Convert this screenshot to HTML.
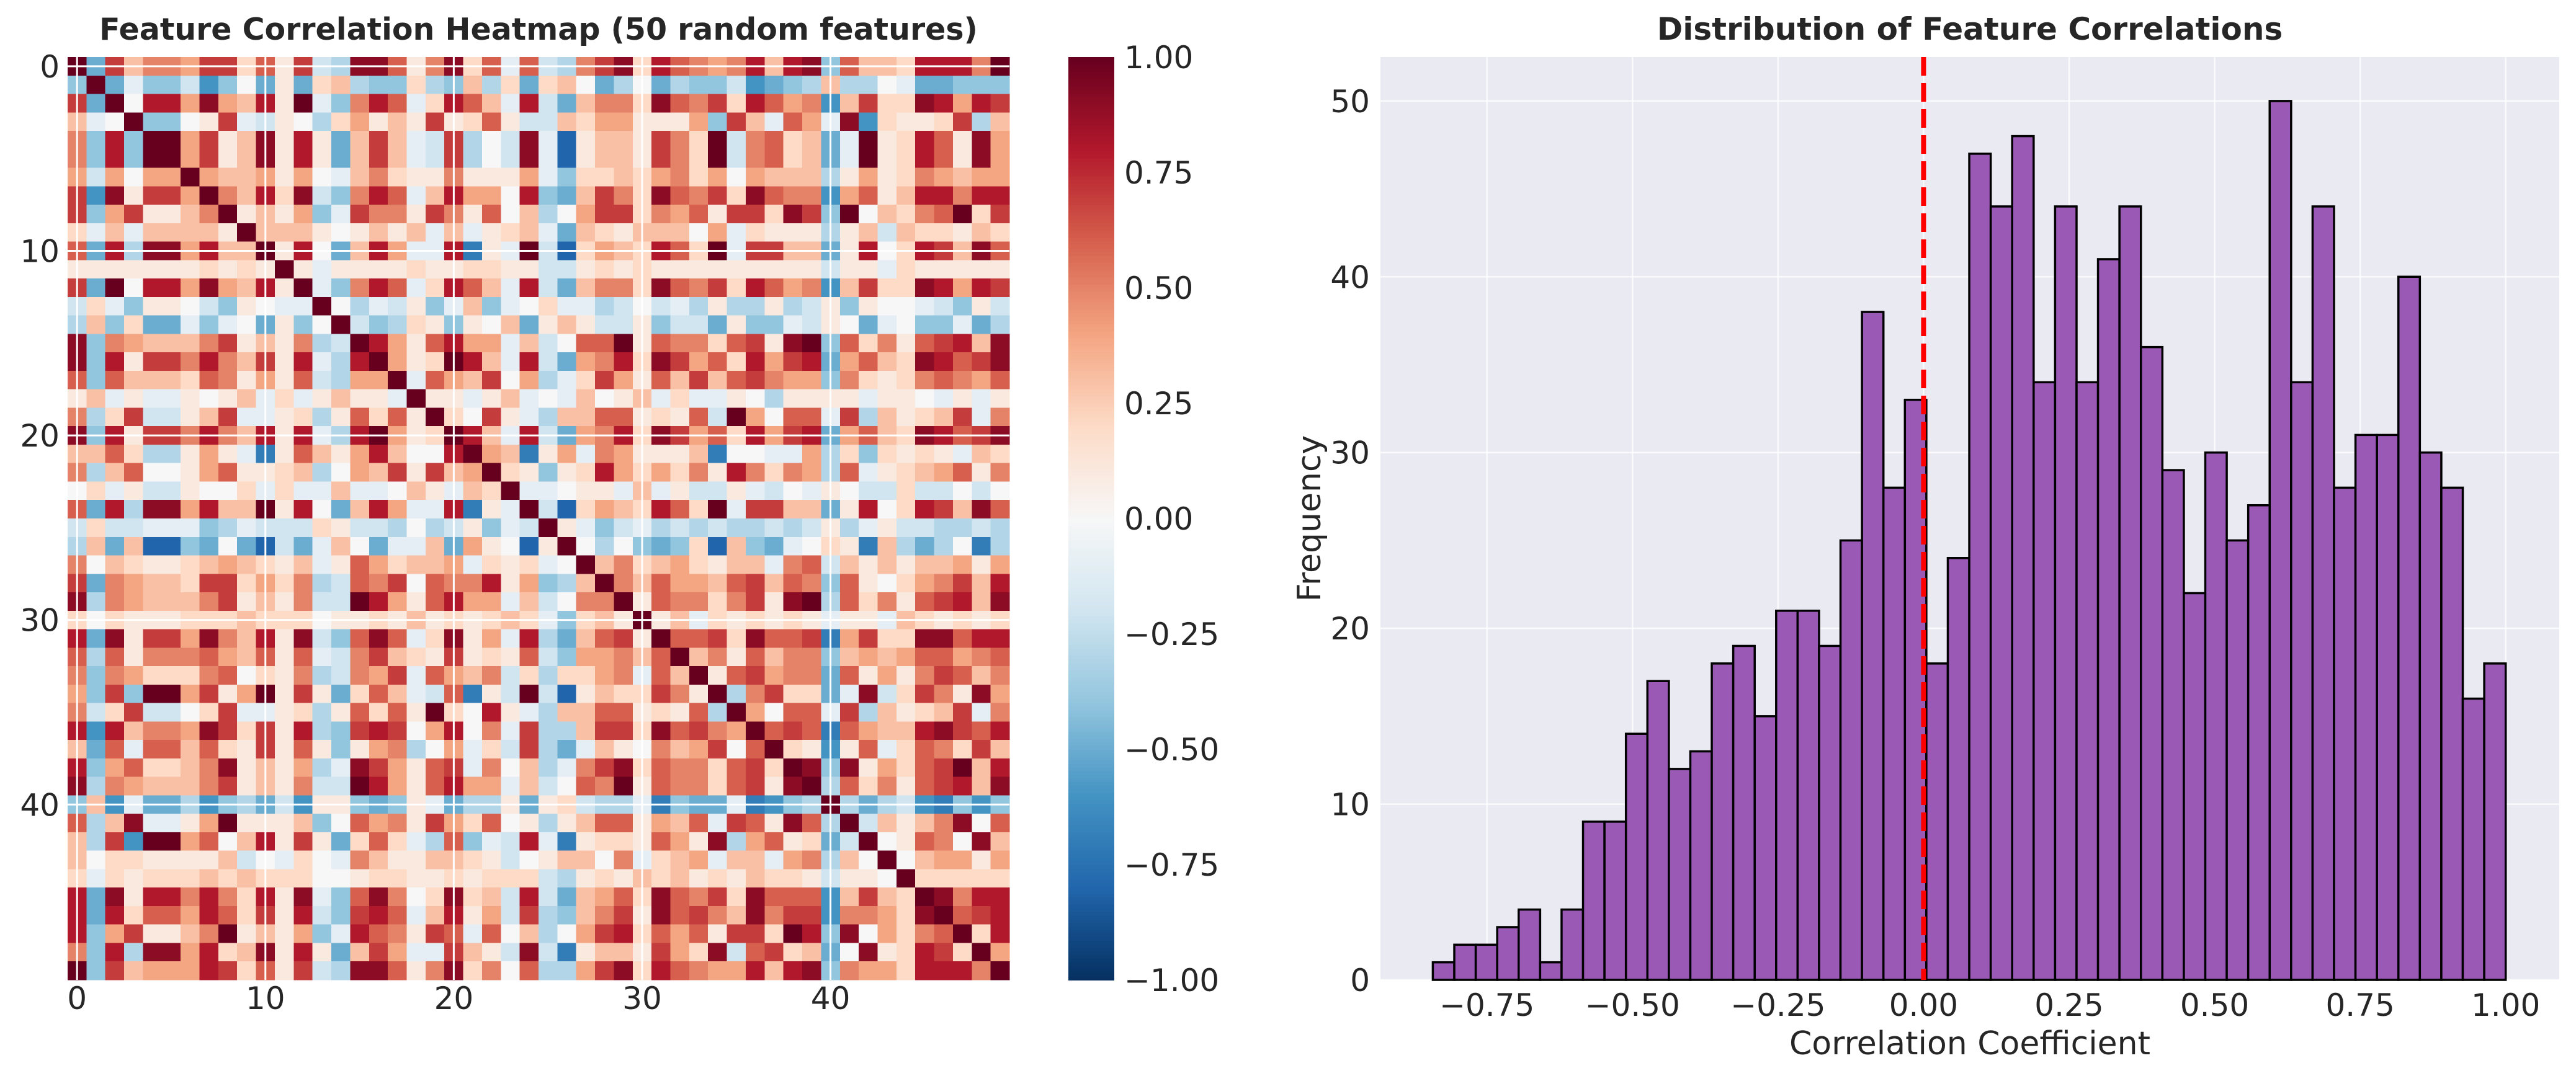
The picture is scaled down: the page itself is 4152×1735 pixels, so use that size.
<!DOCTYPE html>
<html><head><meta charset="utf-8"><style>
html,body{margin:0;padding:0;background:#fff;width:4152px;height:1735px;overflow:hidden}
svg{display:block}
text{font-family:"DejaVu Sans","Liberation Sans",sans-serif;fill:#262626}
</style></head><body>
<svg id="fig" width="4152" height="1735" viewBox="0 0 4152 1735" xmlns="http://www.w3.org/2000/svg">
<g id="heat"></g>
<g id="cbar"></g>
<g id="hist"></g>
</svg>
<script>
// ---------- heatmap data (A=-1.0 ... K=0 ... U=1.0, step 0.1) ----------
const heatTopRows = [
"UFRNPPORRMQLRIHTTQLPTMQJQIHPRTMSQPOPSNSTGQNNMSSSPU",
"GUFJGGIEGKFLFMNHGGMHGNHMFMNKFHKFHGGIEFGHNHHKJFFGGG",
"RFUKSSOTONSLUJGPSQJMSQNJSIFNPPMTQPRMSQOPENRMMTSOSR",
"NJKUGGKLRJILKHMOLNLRLMQLIINMOOLLLOGRNJQOJTEMLLMRHN",
"PGSGUUORLNTLSLFNRNJIRHKITJCLNNLRPMUIPQMNFJULMSQLTO",
"PGSGUUORLNTLSLFNRNJIRHKITJCLNNLRPMUIPQMNFJULMSQLTO",
"OIOKOOUONNOLOKJNPMLLPLLLOJGMMNMOPMOKONNNHLOLMPONOO",
"RETLRROUPNSMTIGPSQJNSOOKSGFNRPMTQPRMTQPPEOQLNSSPSS",
"RGORLLNPULNLOGJRPPLRPLQKNHKORRMPOQLRRMTRGUKNMPQUMR",
"MJNJNNNNLUNNNLKLNLNJNJLMNJFNMLNNNKOJMLLLHLNINMMLNM",
"QFSHTTOSNNULSKFNSOJJSDLJUICMONMSQMUJRRNNFLSKMSRNTQ",
"LLLLLLLMLMLULJLLLLMLLMMLLIILMLMLLLLLLLLLILLJMLLLLL",
"RFUKSSOTONSLUJGPSQJMSQNJSIFNPPMTQPRMSQOPENRMMTSOSR",
"IMJGLLKIGLKJJUKHJILGJNGJKMJJHIKIJHLHHLHILGLKKJIGLI",
"HNGMFFJGJKFLGKUIGHMLGLKNFLNLIILGIIFLGGJILKFJKGGJFH",
"TGPONNNPRLNLPHIUSOLQSOOJNIKQQULQPPMQRLTUGQMPLQRSNT",
"TGSLRRPSPNRLSJHSUOLMUSNJSIFOPSMTROQMSORSFOQNMTSQRT",
"QGQNNNMQPLOLQIHOOUJQONRKOHJMROLQNRNQRPOOGPMLMPQPOQ",
"LNJLJJLKLNJMJLNLLJULLJLNJKJNKLNJMJJLKHLLLLJLLKJLJL",
"PHMRIILNRJJLMHLQMQLUMKRLJHNNQQLMLQIUOKQQJRHNLMNRJP",
"TGSLRRPSPNSLSJHSUOLMUSNJSIFOPSMTROQMSORSFOQNMTSQRT",
"NNQMHHLOLJDLQNLOSNKKSUONDLOJPOLLLNDKKJJOHMGMLMLJNM",
"PHNQKKLOQLLMNHKONRLRNOUMLGLMSOMOMPLSPMPOHQJLMNOQLP",
"KMJLIILKKMJMJJNJJKNLJNMUJJKLLJNJLIILJIKJLKIIMIIKIK",
"QFSHTTOSNNULSKFNSOJJSDLJUICMONMSQMUJRRNNFLSKMSRNTQ"
];
const heatBottomRows = [
"ULJGIJHIHIHHIHILHJLIIHHIH",
"LUKHKGFGMCNGFJKMLDNHFHKDH",
"JKUNPMNOMLNNJPQINLNLNNOLO",
"GHNUPNQOONQRNQPGQLKMOPRNS",
"IKPPULQPPMPRLTUHQMPLQRSNT",
"JGMNLULNJMLMLMLJLLJNMLMLM",
"HFNQRLUQQRMTQQRDORMMTTQSS",
"IGOOPNQUNPLQNPPGNONOQQOPQ",
"HMMOPJQNULQROPPFQLOLPRQNP",
"ICLNMMRPLUHPRMMFJTIMRPLTO",
"HNNQQLMLQHUOKQQJRHNLMNRJP",
"HHNRRMTQRPOUQRQDQONNSTRQS",
"HFJNLKPNORKQUMLELQJMQPMRN",
"HJPRTMQPPMQRMUTGTLOMQRUNS",
"IKQPULQPPMQRLTUHQMPLQRSNT",
"LMIHHJDGFFJDEGHUHFHIEDGEG",
"HLNQQLONQJRQLTQHUINLNPTKQ",
"JDLMMLQOLTHOQLMFIUKLQPKTN",
"LNNKPJMNOJNNJOPHNKUKNOOLO",
"IHLMLNMNLMLNMMLILLKUMMMMM",
"IFNOQMTQPRMTQQQENRNMUTPSS",
"HGNPRLTQRPNTPRREPPOMTUQRS",
"HKORSMQOQLRRMUSGTKOMPQUMS",
"IDLNNLROMTIQRMNFKTLMSRMUO",
"HHORTMSQPOOSNSTGPOOMSSSPU"
];
const heatTicks = [0, 10, 20, 30, 40];
const cbarTicks = [-1.0, -0.75, -0.5, -0.25, 0, 0.25, 0.5, 0.75, 1.0];
const cbarTickLabels = ["\u22121.00","\u22120.75","\u22120.50","\u22120.25","0.00","0.25","0.50","0.75","1.00"];

// ---------- histogram data ----------
const histCounts = [1,2,2,3,4,1,4,9,9,14,17,12,13,18,19,15,21,21,19,25,38,28,33,18,24,47,44,48,34,44,34,41,44,36,29,22,30,25,27,50,34,44,28,31,31,40,30,28,16,18];
const histMin = -0.843;
const histMax = 1.0;
const histXTicks = [-0.75,-0.5,-0.25,0,0.25,0.5,0.75,1.0];
const histXTickLabels = ["\u22120.75","\u22120.50","\u22120.25","0.00","0.25","0.50","0.75","1.00"];
const histYTicks = [0,10,20,30,40,50];
const refLineX = 0;

const NS = "http://www.w3.org/2000/svg";
function mk(tag, attrs, parent, txt){
  const e = document.createElementNS(NS, tag);
  for (const k in attrs) e.setAttribute(k, attrs[k]);
  if (txt !== undefined) e.textContent = txt;
  parent.appendChild(e);
  return e;
}
const N = 50;
function code(ch){ return ch ? (ch.charCodeAt(0) - 75) / 10 : 0; }
function val(i, j){
  if (i === j) return 1;
  if (i < 25) return code(heatTopRows[i][j]);
  if (j < 25) return code(heatTopRows[j][i]);
  return code(heatBottomRows[i-25][j-25]);
}
const stops = ["#053061","#2166ac","#4393c3","#92c5de","#d1e5f0","#f7f7f7","#fddbc7","#f4a582","#d6604d","#b2182b","#67001f"];
function hex(h){ return [parseInt(h.substr(1,2),16),parseInt(h.substr(3,2),16),parseInt(h.substr(5,2),16)]; }
function cmap(v){
  let t = Math.max(0, Math.min(1, (v + 1) / 2)) * 10;
  let k = Math.min(9, Math.floor(t)); let f = t - k;
  const a = hex(stops[k]), b = hex(stops[k+1]);
  return "rgb(" + a.map((x,q)=>Math.round(x + (b[q]-x)*f)).join(",") + ")";
}

// ---------- heatmap ----------
const H = {x0:109, x1:1627, y0:92, y1:1580};
const cw = (H.x1-H.x0)/N, ch = (H.y1-H.y0)/N;
const hx = c => H.x0 + c*cw, hy = r => H.y0 + r*ch;
const heat = document.getElementById("heat");
const ht = mk("text",{x:(H.x0+H.x1)/2,y:64,"text-anchor":"middle","font-size":49,"font-weight":"bold"},heat,"Feature Correlation Heatmap (50 random features)");


const cells = mk("g",{"shape-rendering":"crispEdges"},heat);


for (let i=0;i<N;i++) for (let j=0;j<N;j++){
  const r = mk("rect",{x:hx(j),y:hy(i),width:cw+0.6,height:ch+0.6,fill:cmap(val(i,j))},cells);
  
  
}
heatTicks.forEach(t=>{
  const cx = hx(t+0.5), cy = hy(t+0.5);
  const g1 = mk("line",{x1:cx,x2:cx,y1:H.y0,y2:H.y1,stroke:"#fff","stroke-width":3},heat);
  
  
  const g2 = mk("line",{x1:H.x0,x2:H.x1,y1:cy,y2:cy,stroke:"#fff","stroke-width":3},heat);
  
  
  const lx = mk("text",{x:cx,y:1627,"text-anchor":"middle","font-size":50},heat,String(t));
  
  
  const ly = mk("text",{x:96,y:cy+18,"text-anchor":"end","font-size":50},heat,String(t));
  
  
});

// ---------- colorbar ----------
const C = {x0:1722, x1:1796, y0:92, y1:1580};
const cb = document.getElementById("cbar");
const cy = v => C.y1 - (v+1)/2*(C.y1-C.y0);
const steps = 256;
for (let s=0;s<steps;s++){
  const v0 = -1 + 2*s/steps, v1 = -1 + 2*(s+1)/steps;
  const r = mk("rect",{x:C.x0,y:cy(v1),width:C.x1-C.x0,height:cy(v0)-cy(v1)+0.8,fill:cmap((v0+v1)/2),"shape-rendering":"crispEdges"},cb);
  
  
}
cbarTicks.forEach((t,k)=>{
  const l = mk("text",{x:1812,y:cy(t)+18,"font-size":50},cb,cbarTickLabels[k]);
  
  
});

// ---------- histogram ----------
const A = {x0:2225, x1:4125, y0:92, y1:1580};
const xMin = -0.933, xMax = 1.092, yMax = 52.5;
const X = v => A.x0 + (v-xMin)/(xMax-xMin)*(A.x1-A.x0);
const Y = v => A.y1 - v/yMax*(A.y1-A.y0);
const hg = document.getElementById("hist");
const bg = mk("rect",{x:A.x0,y:A.y0,width:A.x1-A.x0,height:A.y1-A.y0,fill:"#eaeaf2"},hg);


histXTicks.forEach((t,k)=>{
  const gl = mk("line",{x1:X(t),x2:X(t),y1:A.y0,y2:A.y1,stroke:"#fff","stroke-width":2.5,opacity:0.8},hg);
  
  
  const l = mk("text",{x:X(t),y:1638,"text-anchor":"middle","font-size":50},hg,histXTickLabels[k]);
  
  
});
histYTicks.forEach(t=>{
  const gl = mk("line",{x1:A.x0,x2:A.x1,y1:Y(t),y2:Y(t),stroke:"#fff","stroke-width":2.5,opacity:0.8},hg);
  
  
  const l = mk("text",{x:2208,y:Y(t)+18,"text-anchor":"end","font-size":50},hg,String(t));
  
  
});
const bw = (histMax-histMin)/histCounts.length;
histCounts.forEach((c,k)=>{
  const a = histMin + k*bw;
  const b = mk("rect",{x:X(a),y:Y(c),width:X(a+bw)-X(a),height:Y(0)-Y(c),fill:"#9b59b6",stroke:"#000","stroke-width":3.5},hg);
  
  
});
const rl = mk("line",{x1:X(refLineX),x2:X(refLineX),y1:A.y0,y2:A.y1,stroke:"#ff0000","stroke-width":8,"stroke-dasharray":"30,12"},hg);


const t1 = mk("text",{x:(A.x0+A.x1)/2,y:64,"text-anchor":"middle","font-size":50,"font-weight":"bold"},hg,"Distribution of Feature Correlations");


const xl = mk("text",{x:(A.x0+A.x1)/2,y:1700,"text-anchor":"middle","font-size":52},hg,"Correlation Coefficient");


const yl = mk("text",{x:0,y:0,"text-anchor":"middle","font-size":52,transform:"translate(2128,836) rotate(-90)"},hg,"Frequency");


</script>
</body></html>
